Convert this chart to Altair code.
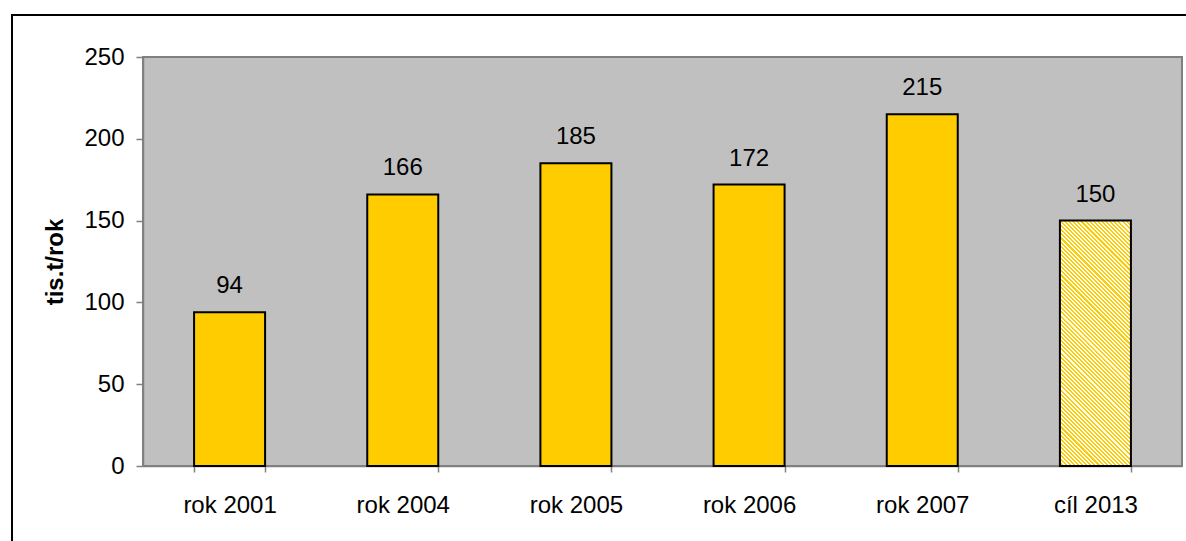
import math
import altair as alt
import pandas as pd

# Produkce (tis. t/rok) po letech a cíl pro rok 2013
categories = ["rok 2001", "rok 2004", "rok 2005", "rok 2006", "rok 2007", "cíl 2013"]
values = [94, 166, 185, 172, 215, 150]
is_target = [False, False, False, False, False, True]
y_ticks = [0, 50, 100, 150, 200, 250]

df = pd.DataFrame({"kategorie": categories, "hodnota": values, "cil": is_target})

FONT = "Liberation Sans"
FS = 24
W, H = 1039, 409
PAD_INNER = 0.59
YELLOW = "#FFCC00"

# Hatch for the target bar: a diagonal striped linear gradient (45° stripes)
target_value = df.loc[df["cil"], "hodnota"].iloc[0]
bar_w = W / len(categories) * (1 - PAD_INNER)
bar_h = H * target_value / max(y_ticks)
k = (bar_w + bar_h) / (bar_w ** 2 + bar_h ** 2)
period = 2.9
n = max(1, round((bar_w + bar_h) / math.sqrt(2) / period))
stops = []
for i in range(n):
    a, m, b = i / n, (i + 0.5) / n, (i + 1) / n
    stops += [
        alt.GradientStop(offset=a, color="#FFFFFF"),
        alt.GradientStop(offset=m, color="#FFFFFF"),
        alt.GradientStop(offset=m, color=YELLOW),
        alt.GradientStop(offset=b, color=YELLOW),
    ]
hatch = alt.LinearGradient(
    gradient="linear",
    stops=stops,
    x1=0, y1=1,
    x2=bar_w * k, y2=1 - bar_h * k,
)

x_enc = alt.X(
    "kategorie:N",
    sort=categories,
    scale=alt.Scale(paddingInner=PAD_INNER, paddingOuter=PAD_INNER / 2),
    axis=alt.Axis(
        title=None,
        labelAngle=0,
        tickBand="extent",
        tickSize=6,
        labelPadding=21,
        labelFont=FONT,
        labelFontSize=FS,
        labelColor="#000000",
        domainColor="#808080",
        domainWidth=1.5,
        tickColor="#808080",
        tickWidth=1.5,
    ),
)
y_enc = alt.Y(
    "hodnota:Q",
    scale=alt.Scale(domain=[0, 250], nice=False),
    axis=alt.Axis(
        values=y_ticks,
        title="tis.t/rok",
        titleFont=FONT,
        titleFontSize=FS,
        titleFontWeight="bold",
        titleColor="#000000",
        titleAngle=270,
        titleX=-81,
        titleY=H / 2,
        titleAlign="center",
        titleBaseline="alphabetic",
        grid=False,
        tickSize=7,
        labelPadding=12,
        labelFont=FONT,
        labelFontSize=FS,
        labelColor="#000000",
        domainColor="#808080",
        domainWidth=1.5,
        tickColor="#808080",
        tickWidth=1.5,
    ),
)

base = alt.Chart(df)

bars = base.transform_filter("!datum.cil").mark_bar(
    color=YELLOW, stroke="#000000", strokeWidth=2
).encode(x=x_enc, y=y_enc)

target_bar = base.transform_filter("datum.cil").mark_bar(
    fill=hatch, stroke="#000000", strokeWidth=2
).encode(x=x_enc, y=y_enc)

labels = base.mark_text(
    baseline="alphabetic", dy=-19, font=FONT, fontSize=FS, color="#000000"
).encode(x=x_enc, y=y_enc, text="hodnota:Q")

# Outer chart frame (top and left edges)
frame_src = alt.Chart(pd.DataFrame({"f": [0]}))
frame_top = frame_src.mark_rule(color="#000000", strokeWidth=2).encode(
    x=alt.value(-131), x2=alt.value(1050), y=alt.value(-42)
)
frame_left = frame_src.mark_rule(color="#000000", strokeWidth=2).encode(
    x=alt.value(-131), y=alt.value(-43), y2=alt.value(500)
)

chart = (
    alt.layer(bars, target_bar, labels, frame_top, frame_left)
    .properties(
        width=W,
        height=H,
        padding={"left": 143, "top": 57, "right": 4, "bottom": 75},
        autosize=alt.AutoSizeParams(type="none"),
        background="#FFFFFF",
    )
    .configure_view(fill="#C0C0C0", stroke="#808080", strokeWidth=2)
)

chart.save("out.html", embed_options={"renderer": "svg", "actions": False})
